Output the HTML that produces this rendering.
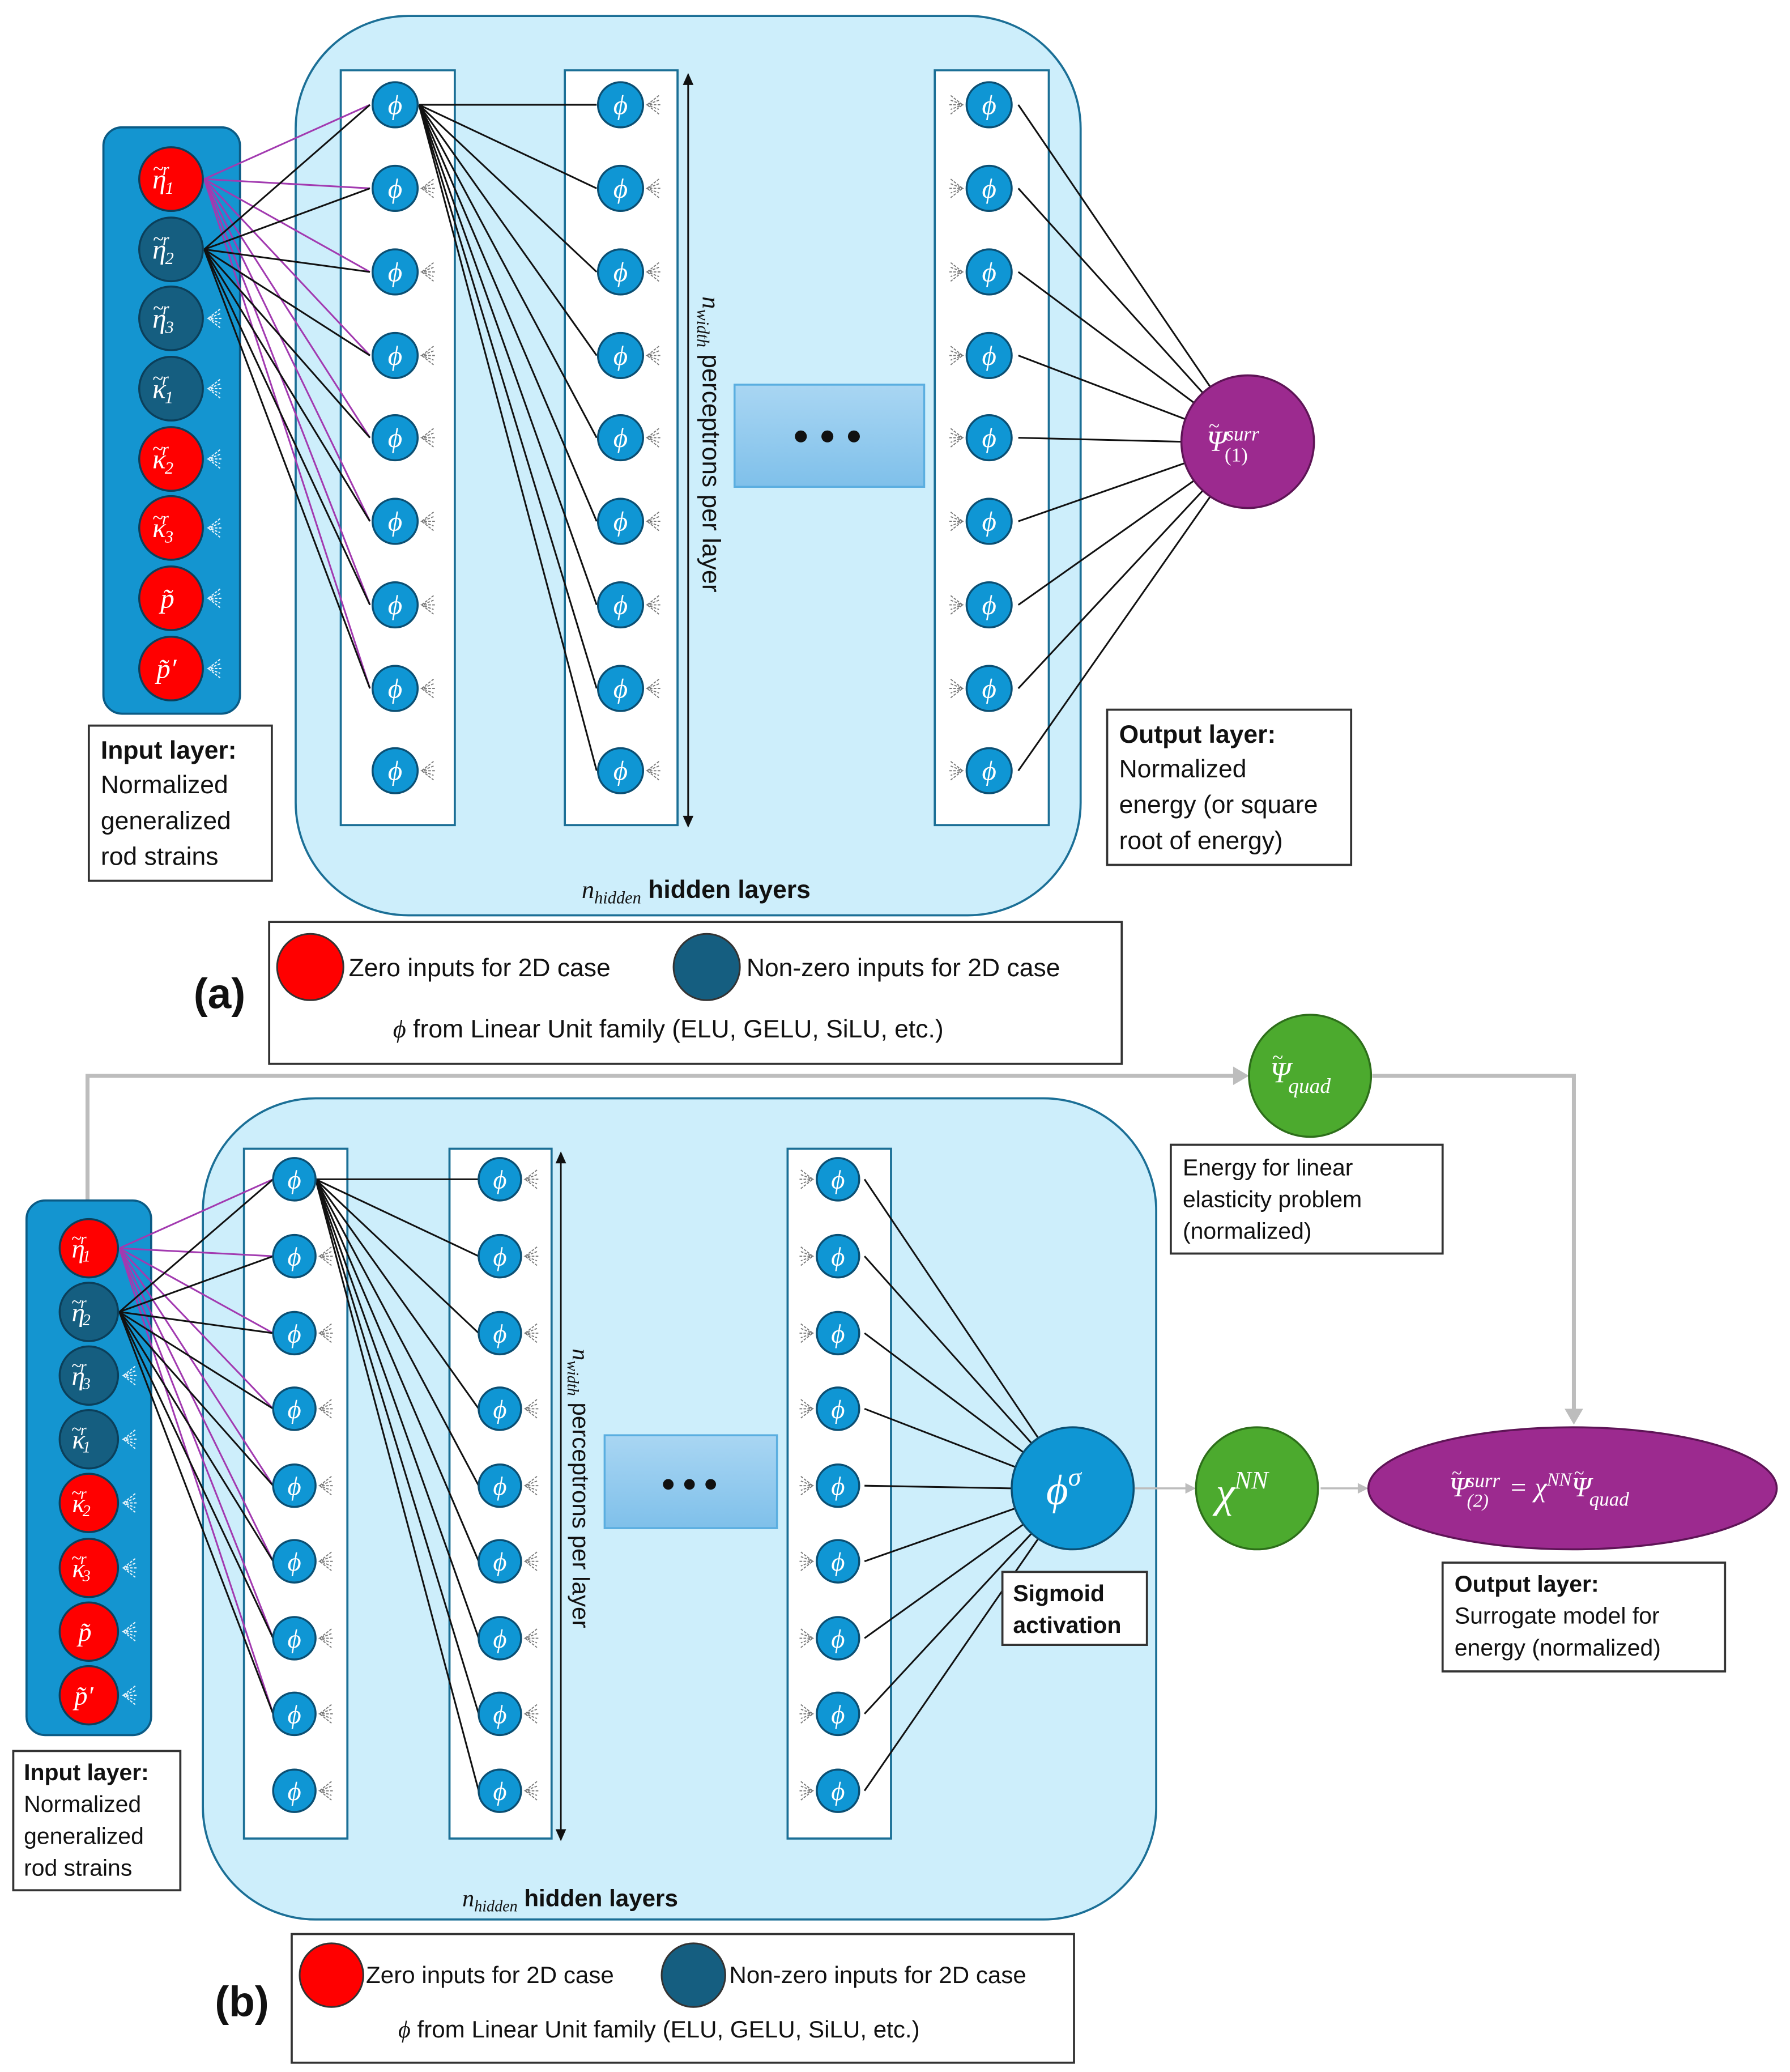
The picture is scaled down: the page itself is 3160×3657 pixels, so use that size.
<!DOCTYPE html>
<html><head><meta charset="utf-8"><style>
html,body{margin:0;padding:0;background:#fff}
svg{display:block}
.t{font-family:"Liberation Sans",sans-serif;fill:#111}
.m{font-family:"Liberation Serif",serif;font-style:italic;fill:#fff}
.bx{fill:#fff;stroke:#333;stroke-width:1.6}
.col{fill:#fff;stroke:#1b6f96;stroke-width:1.6}
.n{fill:#0f96d4;stroke:#0b4f73;stroke-width:1.5}
.pu{stroke:#a23ab0;stroke-width:1.3}
.bk{stroke:#111;stroke-width:1.3}
.tl{font-style:normal}
</style></head><body>
<svg width="3160" height="3657" viewBox="0 0 1350 1562" preserveAspectRatio="none" xmlns="http://www.w3.org/2000/svg">
<defs>
<g id="fr"><path d="M9,-7L0,0L9,7M10,0H0M9,-3.5L0,0L9,3.5" fill="none" stroke="#777" stroke-width="0.8" stroke-dasharray="2,1"/></g>
<g id="fl"><path d="M-9,-7L0,0L-9,7M-10,0H0M-9,-3.5L0,0L-9,3.5" fill="none" stroke="#777" stroke-width="0.8" stroke-dasharray="2,1"/></g>
<g id="fw"><path d="M9,-7L0,0L9,7M10,0H0M9,-3.5L0,0L9,3.5" fill="none" stroke="#e8f4fb" stroke-width="0.9" stroke-dasharray="2,1"/></g>
<linearGradient id="gd" x1="0" y1="0" x2="0" y2="1"><stop offset="0" stop-color="#a9d6f3"/><stop offset="1" stop-color="#7fc0ea"/></linearGradient>
</defs>

<!-- ============ PANEL A ============ -->
<rect x="223" y="12" width="592" height="678" rx="85" fill="#cdeefb" stroke="#1b6f96" stroke-width="1.6"/>
<rect x="78" y="96" width="103" height="442" rx="14" fill="#1495d0" stroke="#0b5b85" stroke-width="1.6"/>
<rect x="257" y="53" width="86" height="569" class="col"/>
<rect x="426" y="53" width="85" height="569" class="col"/>
<rect x="705" y="53" width="86" height="569" class="col"/>
<rect x="554" y="290" width="143" height="77" fill="url(#gd)" stroke="#5aaee0" stroke-width="1.5"/>
<circle cx="604" cy="329" r="4.5" fill="#111"/><circle cx="624" cy="329" r="4.5" fill="#111"/><circle cx="644" cy="329" r="4.5" fill="#111"/>
<path d="M519,57V622" stroke="#111" stroke-width="1.3"/>
<path d="M515,64L519,55L523,64M515,615L519,624L523,615" fill="#111"/>
<text transform="translate(530,335) rotate(90)" text-anchor="middle" class="t" font-size="19"><tspan font-family="Liberation Serif" font-style="italic">n<tspan font-size="13" dy="4">width</tspan></tspan><tspan dy="-4"> perceptrons per layer</tspan></text>

<g class="pu">
<line x1="154" y1="135" x2="279" y2="79"/><line x1="154" y1="135" x2="279" y2="142"/><line x1="154" y1="135" x2="279" y2="205"/><line x1="154" y1="135" x2="279" y2="268"/><line x1="154" y1="135" x2="279" y2="330"/><line x1="154" y1="135" x2="279" y2="393"/><line x1="154" y1="135" x2="279" y2="456"/><line x1="154" y1="135" x2="279" y2="519"/>
</g>
<g class="bk">
<line x1="154" y1="188" x2="279" y2="79"/><line x1="154" y1="188" x2="279" y2="142"/><line x1="154" y1="188" x2="279" y2="205"/><line x1="154" y1="188" x2="279" y2="268"/><line x1="154" y1="188" x2="279" y2="330"/><line x1="154" y1="188" x2="279" y2="393"/><line x1="154" y1="188" x2="279" y2="456"/><line x1="154" y1="188" x2="279" y2="519"/>
<line x1="316" y1="79" x2="450" y2="79"/><line x1="316" y1="79" x2="450" y2="142"/><line x1="316" y1="79" x2="450" y2="205"/><line x1="316" y1="79" x2="450" y2="268"/><line x1="316" y1="79" x2="450" y2="330"/><line x1="316" y1="79" x2="450" y2="393"/><line x1="316" y1="79" x2="450" y2="456"/><line x1="316" y1="79" x2="450" y2="519"/><line x1="316" y1="79" x2="450" y2="581"/>
<line x1="768" y1="79" x2="913" y2="292"/><line x1="768" y1="142" x2="907" y2="296"/><line x1="768" y1="205" x2="901" y2="304"/><line x1="768" y1="268" x2="894" y2="316"/><line x1="768" y1="330" x2="891" y2="333"/><line x1="768" y1="393" x2="894" y2="349"/><line x1="768" y1="456" x2="901" y2="362"/><line x1="768" y1="519" x2="907" y2="370"/><line x1="768" y1="581" x2="913" y2="374"/>
</g>

<g stroke="#0b3f5a" stroke-width="1.5">
<circle cx="129" cy="135" r="24" fill="#ff0000"/><circle cx="129" cy="188" r="24" fill="#155e80"/><circle cx="129" cy="240" r="24" fill="#155e80"/><circle cx="129" cy="293" r="24" fill="#155e80"/><circle cx="129" cy="346" r="24" fill="#ff0000"/><circle cx="129" cy="398" r="24" fill="#ff0000"/><circle cx="129" cy="451" r="24" fill="#ff0000"/><circle cx="129" cy="504" r="24" fill="#ff0000"/>
</g>
<g class="m" font-size="21">
<text x="115" y="142">η<tspan class="tl" font-size="15" dx="-10" dy="-10">~</tspan><tspan font-size="13" dx="-1" dy="0">r</tspan><tspan font-size="13" dx="-3" dy="14">1</tspan></text>
<text x="115" y="195">η<tspan class="tl" font-size="15" dx="-10" dy="-10">~</tspan><tspan font-size="13" dx="-1" dy="0">r</tspan><tspan font-size="13" dx="-3" dy="14">2</tspan></text>
<text x="115" y="247">η<tspan class="tl" font-size="15" dx="-10" dy="-10">~</tspan><tspan font-size="13" dx="-1" dy="0">r</tspan><tspan font-size="13" dx="-3" dy="14">3</tspan></text>
<text x="115" y="300">κ<tspan class="tl" font-size="15" dx="-10" dy="-10">~</tspan><tspan font-size="13" dx="-1" dy="0">r</tspan><tspan font-size="13" dx="-3" dy="14">1</tspan></text>
<text x="115" y="353">κ<tspan class="tl" font-size="15" dx="-10" dy="-10">~</tspan><tspan font-size="13" dx="-1" dy="0">r</tspan><tspan font-size="13" dx="-3" dy="14">2</tspan></text>
<text x="115" y="405">κ<tspan class="tl" font-size="15" dx="-10" dy="-10">~</tspan><tspan font-size="13" dx="-1" dy="0">r</tspan><tspan font-size="13" dx="-3" dy="14">3</tspan></text>
<text x="121" y="458">p̃</text>
<text x="118" y="511">p̃′</text>
</g>
<use href="#fw" x="157" y="240"/><use href="#fw" x="157" y="293"/><use href="#fw" x="157" y="346"/><use href="#fw" x="157" y="398"/><use href="#fw" x="157" y="451"/><use href="#fw" x="157" y="504"/>

<g class="n">
<circle cx="298" cy="79" r="17"/><circle cx="298" cy="142" r="17"/><circle cx="298" cy="205" r="17"/><circle cx="298" cy="268" r="17"/><circle cx="298" cy="330" r="17"/><circle cx="298" cy="393" r="17"/><circle cx="298" cy="456" r="17"/><circle cx="298" cy="519" r="17"/><circle cx="298" cy="581" r="17"/>
<circle cx="468" cy="79" r="17"/><circle cx="468" cy="142" r="17"/><circle cx="468" cy="205" r="17"/><circle cx="468" cy="268" r="17"/><circle cx="468" cy="330" r="17"/><circle cx="468" cy="393" r="17"/><circle cx="468" cy="456" r="17"/><circle cx="468" cy="519" r="17"/><circle cx="468" cy="581" r="17"/>
<circle cx="746" cy="79" r="17"/><circle cx="746" cy="142" r="17"/><circle cx="746" cy="205" r="17"/><circle cx="746" cy="268" r="17"/><circle cx="746" cy="330" r="17"/><circle cx="746" cy="393" r="17"/><circle cx="746" cy="456" r="17"/><circle cx="746" cy="519" r="17"/><circle cx="746" cy="581" r="17"/>
</g>
<g class="m" font-size="21" text-anchor="middle">
<text x="298" y="86">ϕ</text><text x="298" y="149">ϕ</text><text x="298" y="212">ϕ</text><text x="298" y="275">ϕ</text><text x="298" y="337">ϕ</text><text x="298" y="400">ϕ</text><text x="298" y="463">ϕ</text><text x="298" y="526">ϕ</text><text x="298" y="588">ϕ</text>
<text x="468" y="86">ϕ</text><text x="468" y="149">ϕ</text><text x="468" y="212">ϕ</text><text x="468" y="275">ϕ</text><text x="468" y="337">ϕ</text><text x="468" y="400">ϕ</text><text x="468" y="463">ϕ</text><text x="468" y="526">ϕ</text><text x="468" y="588">ϕ</text>
<text x="746" y="86">ϕ</text><text x="746" y="149">ϕ</text><text x="746" y="212">ϕ</text><text x="746" y="275">ϕ</text><text x="746" y="337">ϕ</text><text x="746" y="400">ϕ</text><text x="746" y="463">ϕ</text><text x="746" y="526">ϕ</text><text x="746" y="588">ϕ</text>
</g>
<use href="#fr" x="318" y="142"/><use href="#fr" x="318" y="205"/><use href="#fr" x="318" y="268"/><use href="#fr" x="318" y="330"/><use href="#fr" x="318" y="393"/><use href="#fr" x="318" y="456"/><use href="#fr" x="318" y="519"/><use href="#fr" x="318" y="581"/>
<use href="#fr" x="488" y="79"/><use href="#fr" x="488" y="142"/><use href="#fr" x="488" y="205"/><use href="#fr" x="488" y="268"/><use href="#fr" x="488" y="330"/><use href="#fr" x="488" y="393"/><use href="#fr" x="488" y="456"/><use href="#fr" x="488" y="519"/><use href="#fr" x="488" y="581"/>
<use href="#fl" x="726" y="79"/><use href="#fl" x="726" y="142"/><use href="#fl" x="726" y="205"/><use href="#fl" x="726" y="268"/><use href="#fl" x="726" y="330"/><use href="#fl" x="726" y="393"/><use href="#fl" x="726" y="456"/><use href="#fl" x="726" y="519"/><use href="#fl" x="726" y="581"/>

<circle cx="941" cy="333" r="50" fill="#9c2a8f" stroke="#5e1456" stroke-width="1.5"/>
<text x="910" y="340" class="m" font-size="22" font-style="normal">Ψ<tspan font-size="15" dx="-14" dy="-14">~</tspan><tspan font-style="italic" font-size="15" dx="5" dy="6">surr</tspan><tspan font-style="normal" font-size="15" dx="-26" dy="16">(1)</tspan></text>

<rect x="67" y="547" width="138" height="117" class="bx"/>
<text class="t" font-size="19" x="76" y="572" font-weight="bold">Input layer:</text>
<text class="t" font-size="19" x="76" y="598">Normalized</text>
<text class="t" font-size="19" x="76" y="625">generalized</text>
<text class="t" font-size="19" x="76" y="652">rod strains</text>

<rect x="835" y="535" width="184" height="117" class="bx"/>
<text class="t" font-size="19" x="844" y="560" font-weight="bold">Output layer:</text>
<text class="t" font-size="19" x="844" y="586">Normalized</text>
<text class="t" font-size="19" x="844" y="613">energy (or square</text>
<text class="t" font-size="19" x="844" y="640">root of energy)</text>

<text x="525" y="677" text-anchor="middle" class="t" font-size="19"><tspan font-family="Liberation Serif" font-style="italic">n<tspan font-size="13" dy="4">hidden</tspan></tspan><tspan dy="-4" font-weight="bold"> hidden layers</tspan></text>

<rect x="203" y="695" width="643" height="107" class="bx"/>
<circle cx="234" cy="729" r="25" fill="#ff0000" stroke="#333" stroke-width="1.3"/>
<text class="t" font-size="19" x="263" y="736">Zero inputs for 2D case</text>
<circle cx="533" cy="729" r="25" fill="#155e80" stroke="#333" stroke-width="1.3"/>
<text class="t" font-size="19" x="563" y="736">Non-zero inputs for 2D case</text>
<text class="t" font-size="19" x="504" y="782" text-anchor="middle"><tspan font-family="Liberation Serif" font-style="italic">ϕ</tspan> from Linear Unit family (ELU, GELU, SiLU, etc.)</text>
<text class="t" font-size="32" font-weight="bold" x="146" y="760">(a)</text>

<!-- ============ PANEL B ============ -->
<path d="M66,905V811H936M1035,811H1187V1066" fill="none" stroke="#bdbdbd" stroke-width="3"/>
<path d="M930,804L942,811L930,818Z M1180,1062L1187,1074L1194,1062Z" fill="#bdbdbd"/>

<rect x="153" y="828" width="719" height="619" rx="85" fill="#cdeefb" stroke="#1b6f96" stroke-width="1.6"/>
<rect x="20" y="905" width="94" height="403" rx="14" fill="#1495d0" stroke="#0b5b85" stroke-width="1.6"/>
<rect x="184" y="866" width="78" height="520" class="col"/>
<rect x="339" y="866" width="77" height="520" class="col"/>
<rect x="594" y="866" width="78" height="520" class="col"/>
<rect x="456" y="1082" width="130" height="70" fill="url(#gd)" stroke="#5aaee0" stroke-width="1.5"/>
<circle cx="504" cy="1119" r="4" fill="#111"/><circle cx="520" cy="1119" r="4" fill="#111"/><circle cx="536" cy="1119" r="4" fill="#111"/>
<path d="M423,870V1386" stroke="#111" stroke-width="1.2"/>
<path d="M419,877L423,868L427,877M419,1379L423,1388L427,1379" fill="#111"/>
<text transform="translate(432,1122) rotate(90)" text-anchor="middle" class="t" font-size="18"><tspan font-family="Liberation Serif" font-style="italic">n<tspan font-size="12" dy="4">width</tspan></tspan><tspan dy="-4"> perceptrons per layer</tspan></text>

<g class="pu">
<line x1="90" y1="941" x2="206" y2="889"/><line x1="90" y1="941" x2="206" y2="947"/><line x1="90" y1="941" x2="206" y2="1005"/><line x1="90" y1="941" x2="206" y2="1062"/><line x1="90" y1="941" x2="206" y2="1120"/><line x1="90" y1="941" x2="206" y2="1177"/><line x1="90" y1="941" x2="206" y2="1235"/><line x1="90" y1="941" x2="206" y2="1292"/>
</g>
<g class="bk">
<line x1="90" y1="989" x2="206" y2="889"/><line x1="90" y1="989" x2="206" y2="947"/><line x1="90" y1="989" x2="206" y2="1005"/><line x1="90" y1="989" x2="206" y2="1062"/><line x1="90" y1="989" x2="206" y2="1120"/><line x1="90" y1="989" x2="206" y2="1177"/><line x1="90" y1="989" x2="206" y2="1235"/><line x1="90" y1="989" x2="206" y2="1292"/>
<line x1="238" y1="889" x2="361" y2="889"/><line x1="238" y1="889" x2="361" y2="947"/><line x1="238" y1="889" x2="361" y2="1005"/><line x1="238" y1="889" x2="361" y2="1062"/><line x1="238" y1="889" x2="361" y2="1120"/><line x1="238" y1="889" x2="361" y2="1177"/><line x1="238" y1="889" x2="361" y2="1235"/><line x1="238" y1="889" x2="361" y2="1292"/><line x1="238" y1="889" x2="361" y2="1350"/>
<line x1="652" y1="889" x2="783" y2="1084"/><line x1="652" y1="947" x2="778" y2="1088"/><line x1="652" y1="1005" x2="772" y2="1095"/><line x1="652" y1="1062" x2="766" y2="1106"/><line x1="652" y1="1120" x2="763" y2="1122"/><line x1="652" y1="1177" x2="766" y2="1137"/><line x1="652" y1="1235" x2="772" y2="1149"/><line x1="652" y1="1292" x2="778" y2="1156"/><line x1="652" y1="1350" x2="783" y2="1160"/>
</g>

<g stroke="#0b3f5a" stroke-width="1.5">
<circle cx="67" cy="941" r="22" fill="#ff0000"/><circle cx="67" cy="989" r="22" fill="#155e80"/><circle cx="67" cy="1037" r="22" fill="#155e80"/><circle cx="67" cy="1085" r="22" fill="#155e80"/><circle cx="67" cy="1133" r="22" fill="#ff0000"/><circle cx="67" cy="1182" r="22" fill="#ff0000"/><circle cx="67" cy="1230" r="22" fill="#ff0000"/><circle cx="67" cy="1278" r="22" fill="#ff0000"/>
</g>
<g class="m" font-size="20">
<text x="54" y="948">η<tspan class="tl" font-size="14" dx="-10" dy="-10">~</tspan><tspan font-size="12" dx="-1" dy="0">r</tspan><tspan font-size="12" dx="-3" dy="13">1</tspan></text>
<text x="54" y="996">η<tspan class="tl" font-size="14" dx="-10" dy="-10">~</tspan><tspan font-size="12" dx="-1" dy="0">r</tspan><tspan font-size="12" dx="-3" dy="13">2</tspan></text>
<text x="54" y="1044">η<tspan class="tl" font-size="14" dx="-10" dy="-10">~</tspan><tspan font-size="12" dx="-1" dy="0">r</tspan><tspan font-size="12" dx="-3" dy="13">3</tspan></text>
<text x="54" y="1092">κ<tspan class="tl" font-size="14" dx="-10" dy="-10">~</tspan><tspan font-size="12" dx="-1" dy="0">r</tspan><tspan font-size="12" dx="-3" dy="13">1</tspan></text>
<text x="54" y="1140">κ<tspan class="tl" font-size="14" dx="-10" dy="-10">~</tspan><tspan font-size="12" dx="-1" dy="0">r</tspan><tspan font-size="12" dx="-3" dy="13">2</tspan></text>
<text x="54" y="1189">κ<tspan class="tl" font-size="14" dx="-10" dy="-10">~</tspan><tspan font-size="12" dx="-1" dy="0">r</tspan><tspan font-size="12" dx="-3" dy="13">3</tspan></text>
<text x="59" y="1237">p̃</text>
<text x="56" y="1285">p̃′</text>
</g>
<use href="#fw" x="93" y="1037"/><use href="#fw" x="93" y="1085"/><use href="#fw" x="93" y="1133"/><use href="#fw" x="93" y="1182"/><use href="#fw" x="93" y="1230"/><use href="#fw" x="93" y="1278"/>

<g class="n">
<circle cx="222" cy="889" r="16"/><circle cx="222" cy="947" r="16"/><circle cx="222" cy="1005" r="16"/><circle cx="222" cy="1062" r="16"/><circle cx="222" cy="1120" r="16"/><circle cx="222" cy="1177" r="16"/><circle cx="222" cy="1235" r="16"/><circle cx="222" cy="1292" r="16"/><circle cx="222" cy="1350" r="16"/>
<circle cx="377" cy="889" r="16"/><circle cx="377" cy="947" r="16"/><circle cx="377" cy="1005" r="16"/><circle cx="377" cy="1062" r="16"/><circle cx="377" cy="1120" r="16"/><circle cx="377" cy="1177" r="16"/><circle cx="377" cy="1235" r="16"/><circle cx="377" cy="1292" r="16"/><circle cx="377" cy="1350" r="16"/>
<circle cx="632" cy="889" r="16"/><circle cx="632" cy="947" r="16"/><circle cx="632" cy="1005" r="16"/><circle cx="632" cy="1062" r="16"/><circle cx="632" cy="1120" r="16"/><circle cx="632" cy="1177" r="16"/><circle cx="632" cy="1235" r="16"/><circle cx="632" cy="1292" r="16"/><circle cx="632" cy="1350" r="16"/>
</g>
<g class="m" font-size="20" text-anchor="middle">
<text x="222" y="896">ϕ</text><text x="222" y="954">ϕ</text><text x="222" y="1012">ϕ</text><text x="222" y="1069">ϕ</text><text x="222" y="1127">ϕ</text><text x="222" y="1184">ϕ</text><text x="222" y="1242">ϕ</text><text x="222" y="1299">ϕ</text><text x="222" y="1357">ϕ</text>
<text x="377" y="896">ϕ</text><text x="377" y="954">ϕ</text><text x="377" y="1012">ϕ</text><text x="377" y="1069">ϕ</text><text x="377" y="1127">ϕ</text><text x="377" y="1184">ϕ</text><text x="377" y="1242">ϕ</text><text x="377" y="1299">ϕ</text><text x="377" y="1357">ϕ</text>
<text x="632" y="896">ϕ</text><text x="632" y="954">ϕ</text><text x="632" y="1012">ϕ</text><text x="632" y="1069">ϕ</text><text x="632" y="1127">ϕ</text><text x="632" y="1184">ϕ</text><text x="632" y="1242">ϕ</text><text x="632" y="1299">ϕ</text><text x="632" y="1357">ϕ</text>
</g>
<use href="#fr" x="241" y="947"/><use href="#fr" x="241" y="1005"/><use href="#fr" x="241" y="1062"/><use href="#fr" x="241" y="1120"/><use href="#fr" x="241" y="1177"/><use href="#fr" x="241" y="1235"/><use href="#fr" x="241" y="1292"/><use href="#fr" x="241" y="1350"/>
<use href="#fr" x="396" y="889"/><use href="#fr" x="396" y="947"/><use href="#fr" x="396" y="1005"/><use href="#fr" x="396" y="1062"/><use href="#fr" x="396" y="1120"/><use href="#fr" x="396" y="1177"/><use href="#fr" x="396" y="1235"/><use href="#fr" x="396" y="1292"/><use href="#fr" x="396" y="1350"/>
<use href="#fl" x="613" y="889"/><use href="#fl" x="613" y="947"/><use href="#fl" x="613" y="1005"/><use href="#fl" x="613" y="1062"/><use href="#fl" x="613" y="1120"/><use href="#fl" x="613" y="1177"/><use href="#fl" x="613" y="1235"/><use href="#fl" x="613" y="1292"/><use href="#fl" x="613" y="1350"/>

<path d="M856,1122H898M996,1122H1028" stroke="#bdbdbd" stroke-width="1.5"/>
<path d="M894,1118L902,1122L894,1126ZM1024,1118L1032,1122L1024,1126Z" fill="#bdbdbd"/>
<circle cx="809" cy="1122" r="46" fill="#0f96d4" stroke="#0b4f73" stroke-width="1.5"/>
<text x="789" y="1134" class="m" font-size="32">ϕ<tspan font-size="20" dy="-14">σ</tspan></text>
<circle cx="948" cy="1122" r="46" fill="#4caa2e" stroke="#2d6e1a" stroke-width="1.5"/>
<text x="917" y="1136" class="m" font-size="32">χ<tspan font-size="19" dy="-14">NN</tspan></text>
<circle cx="988" cy="811" r="46" fill="#4caa2e" stroke="#2d6e1a" stroke-width="1.5"/>
<text x="958" y="816" class="m" font-size="22" font-style="normal">Ψ<tspan font-size="15" dx="-14" dy="-14">~</tspan><tspan font-style="italic" font-size="16" dx="4" dy="22">quad</tspan></text>
<ellipse cx="1186" cy="1122" rx="154" ry="46" fill="#9c2a8f" stroke="#5e1456" stroke-width="1.5"/>
<text x="1093" y="1128" class="m" font-size="21" font-style="normal">Ψ<tspan font-size="14" dx="-13" dy="-13">~</tspan><tspan font-style="italic" font-size="15" dx="4" dy="6">surr</tspan><tspan font-size="14" dx="-25" dy="15">(2)</tspan><tspan dy="-8" dx="10"> = </tspan><tspan font-style="italic">χ</tspan><tspan font-style="italic" font-size="14" dy="-8">NN</tspan><tspan dy="8">Ψ</tspan><tspan font-size="14" dx="-13" dy="-13">~</tspan><tspan font-style="italic" font-size="15" dx="4" dy="20">quad</tspan></text>

<rect x="883" y="863" width="205" height="82" class="bx"/>
<text class="t" font-size="17.5" x="892" y="886">Energy for linear</text>
<text class="t" font-size="17.5" x="892" y="910">elasticity problem</text>
<text class="t" font-size="17.5" x="892" y="934">(normalized)</text>

<rect x="756" y="1185" width="109" height="55" class="bx"/>
<text class="t" font-size="17.5" x="764" y="1207" font-weight="bold">Sigmoid</text>
<text class="t" font-size="17.5" x="764" y="1231" font-weight="bold">activation</text>

<rect x="1088" y="1178" width="213" height="82" class="bx"/>
<text class="t" font-size="17.5" x="1097" y="1200" font-weight="bold">Output layer:</text>
<text class="t" font-size="17.5" x="1097" y="1224">Surrogate model for</text>
<text class="t" font-size="17.5" x="1097" y="1248">energy (normalized)</text>

<rect x="10" y="1320" width="126" height="105" class="bx"/>
<text class="t" font-size="17.5" x="18" y="1342" font-weight="bold">Input layer:</text>
<text class="t" font-size="17.5" x="18" y="1366">Normalized</text>
<text class="t" font-size="17.5" x="18" y="1390">generalized</text>
<text class="t" font-size="17.5" x="18" y="1414">rod strains</text>

<text x="430" y="1437" text-anchor="middle" class="t" font-size="18"><tspan font-family="Liberation Serif" font-style="italic">n<tspan font-size="12" dy="4">hidden</tspan></tspan><tspan dy="-4" font-weight="bold"> hidden layers</tspan></text>

<rect x="220" y="1458" width="590" height="97" class="bx"/>
<circle cx="250" cy="1489" r="24" fill="#ff0000" stroke="#333" stroke-width="1.3"/>
<text class="t" font-size="18" x="276" y="1495">Zero inputs for 2D case</text>
<circle cx="523" cy="1489" r="24" fill="#155e80" stroke="#333" stroke-width="1.3"/>
<text class="t" font-size="18" x="550" y="1495">Non-zero inputs for 2D case</text>
<text class="t" font-size="18" x="497" y="1536" text-anchor="middle"><tspan font-family="Liberation Serif" font-style="italic">ϕ</tspan> from Linear Unit family (ELU, GELU, SiLU, etc.)</text>
<text class="t" font-size="32" font-weight="bold" x="162" y="1520">(b)</text>
</svg>
</body></html>
